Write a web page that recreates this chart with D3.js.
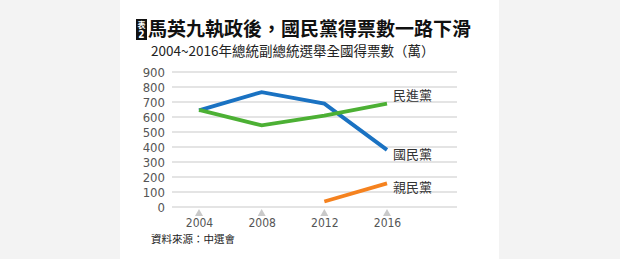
<!DOCTYPE html>
<html><head><meta charset="utf-8">
<script src="https://cdn.jsdelivr.net/npm/d3@7"></script>
<style>
html,body{margin:0;padding:0;background:#f3f3f3;}
svg{display:block;}
</style></head>
<body>
<script>
const years = [2004, 2008, 2012, 2016];
const kmt = [644, 766, 689, 381];
const dpp = [647, 544, 609, 689];
const pfp = [null, null, 37, 158];
const yTicks = [0,100,200,300,400,500,600,700,800,900];
const seriesNames = ["國民黨", "民進黨", "親民黨"];
const seriesColors = ["#1a72c2", "#4cb034", "#f5821f"];
const title = "馬英九執政後，國民黨得票數一路下滑";
const subtitle = "2004~2016年總統副總統選舉全國得票數（萬）";
const source = "資料來源：中選會";

const W = 620, H = 259;
const svg = d3.select("body").append("svg").attr("width", W).attr("height", H);
svg.append("rect").attr("x",0).attr("y",0).attr("width",W).attr("height",H).attr("fill","#f3f3f3");
svg.append("rect").attr("x",120).attr("y",0).attr("width",379).attr("height",H).attr("fill","#ffffff");

const cjk = "'Noto Sans CJK TC','Noto Sans CJK SC',sans-serif";
const narrow = "'Liberation Sans Narrow','DejaVu Sans Condensed','Roboto Condensed',sans-serif";

// badge
svg.append("rect").attr("x",136).attr("y",19).attr("width",11).attr("height",21).attr("fill","#111");
svg.append("text").attr("x",141.5).attr("y",28).attr("text-anchor","middle")
  .attr("font-family",cjk).attr("font-size",8).attr("font-weight","bold").attr("fill","#fff").text("表");
svg.append("text").attr("x",141.5).attr("y",38).attr("text-anchor","middle")
  .attr("font-family",narrow).attr("font-size",10).attr("font-weight","bold").attr("fill","#fff").text("2");

svg.append("text").attr("x",148).attr("y",36).attr("font-family",cjk).attr("font-size",19)
  .attr("font-weight","bold").attr("fill","#111").text(title);
svg.append("text").attr("x",151).attr("y",56).attr("font-family",cjk).attr("font-size",13.5)
  .attr("fill","#222").text(subtitle);

const x = d3.scalePoint().domain(years).range([199, 387]);
const y = d3.scaleLinear().domain([0, 900]).range([207, 72]);

// grid
svg.append("g").selectAll("line").data(yTicks).join("line")
  .attr("x1",172).attr("x2",457).attr("y1",d=>y(d)).attr("y2",d=>y(d))
  .attr("stroke","#c9c9c9").attr("stroke-width",1);

// y axis labels via d3 axis
const yAxis = d3.axisLeft(y).tickValues(yTicks).tickSize(0).tickPadding(0);
const gy = svg.append("g").attr("transform","translate(165,0)").call(yAxis);
gy.select(".domain").remove();
gy.selectAll("text").attr("font-family",narrow).attr("font-size",13).attr("fill","#555");

// x axis
const xAxis = d3.axisBottom(x).tickSize(0).tickPadding(0).tickFormat(d3.format("d"));
const gx = svg.append("g").attr("transform","translate(0,216)").call(xAxis);
gx.select(".domain").remove();
gx.selectAll("text").attr("font-family",narrow).attr("font-size",12).attr("fill","#555").attr("dy","0.95em");
svg.append("g").selectAll("path").data(years).join("path")
  .attr("d", d => `M${x(d)-4},${216} L${x(d)+4},${216} L${x(d)},${209} Z`)
  .attr("fill","#c9c9c9");

// lines
const allSeries = [kmt, dpp, pfp];
const line = d3.line().defined(d => d[1] != null).x(d => x(d[0])).y(d => y(d[1]));
allSeries.forEach((s, i) => {
  svg.append("path").datum(years.map((yr, j) => [yr, s[j]]))
    .attr("d", line).attr("fill","none").attr("stroke", seriesColors[i])
    .attr("stroke-width",3.8).attr("stroke-linejoin","miter").attr("stroke-linecap","butt");
});

// labels
const labelY = [y(kmt[3]) + 5, y(dpp[3]) - 8, y(pfp[3]) + 4];
seriesNames.forEach((n, i) => {
  svg.append("text").attr("x", 393).attr("y", labelY[i]).attr("dy","0.35em")
    .attr("font-family",cjk).attr("font-size",13).attr("fill","#333").text(n);
});

svg.append("text").attr("x",151).attr("y",243).attr("font-family",cjk).attr("font-size",10.5)
  .attr("fill","#222").text(source);
</script>
</body></html>
